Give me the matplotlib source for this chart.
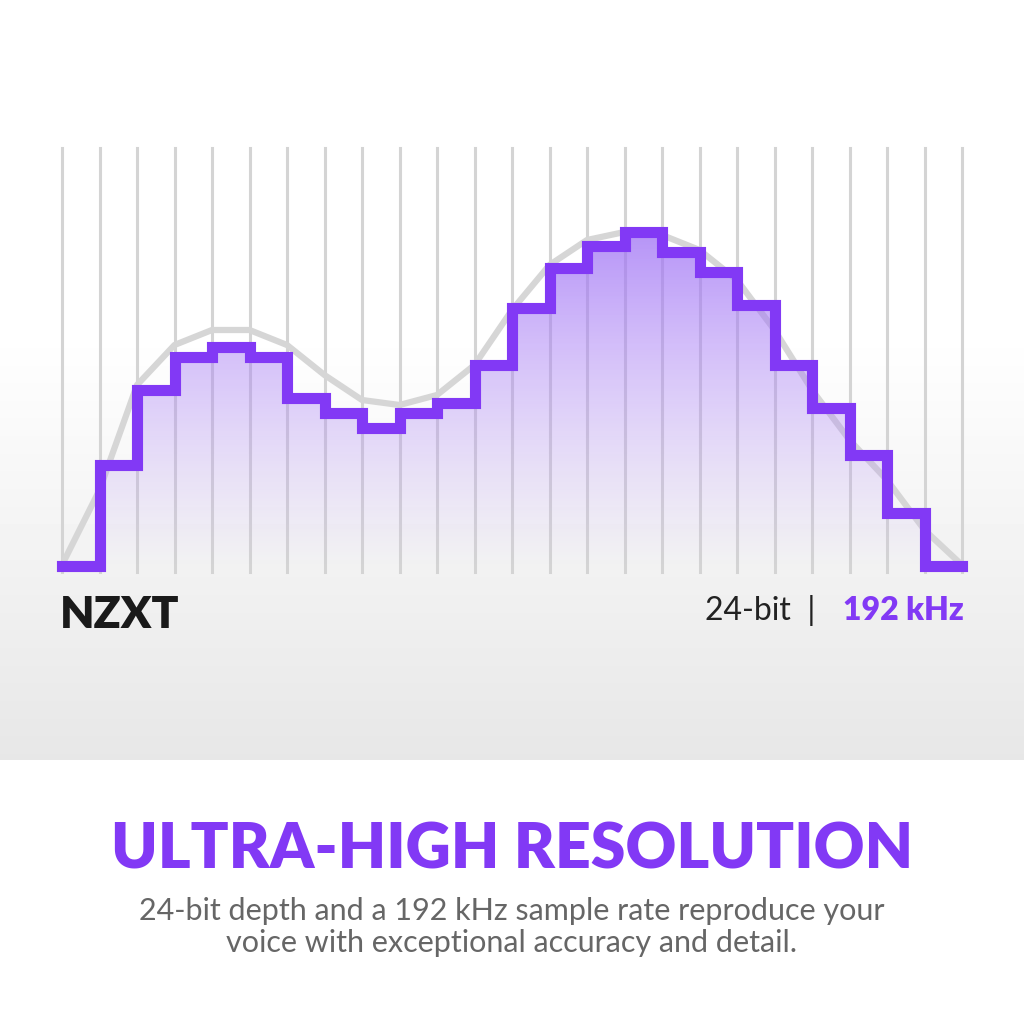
import numpy as np
import matplotlib.pyplot as plt
from matplotlib.colors import LinearSegmentedColormap

# sample index 0..24, amplitude in chart units
samples = np.arange(25)
step_levels = [6, 107, 182, 215, 225, 215, 174, 159, 144, 159, 169, 207,
               264, 304, 326, 340, 320, 300, 267, 207, 164, 117, 59, 6]
curve = [7, 82, 187, 227, 242, 242, 227, 197, 172, 167, 177, 207, 262,
         307, 332, 340, 337, 322, 292, 242, 182, 132, 92, 42, 7]

purple = '#8239f5'
W, H = 1024, 1023
fig = plt.figure(figsize=(W / 100, H / 100), dpi=100)

# background
bg = fig.add_axes([0, 0, 1, 1])
yy = np.linspace(0, 1, H)[:, None]
g = np.ones((H, 1))
top, bot = 330 / H, 760 / H
m = (yy >= top) & (yy <= bot)
g[m[:, 0], 0] = 1 - 0.095 * ((yy[m] - top) / (bot - top))
bg.imshow(np.repeat(g, 2, axis=1), cmap='gray', vmin=0, vmax=1, aspect='auto',
          extent=[0, W, H, 0])
bg.set_xlim(0, W)
bg.set_ylim(H, 0)
bg.axis('off')

ax = fig.add_axes([62 / W, (H - 572) / H, 900 / W, 424 / H])
ax.axis('off')
ax.patch.set_alpha(0)

for x in samples:
    ax.plot([x, x], [0, 424], color='#d4d4d4', lw=2.2, zorder=1, clip_on=False)

ax.plot(samples, curve, color='#d6d6d6', lw=4.5, zorder=2, solid_capstyle='round',
        solid_joinstyle='round')

sx = np.repeat(samples, 2)[1:-1]
sy = np.repeat(step_levels, 2)
poly = ax.fill_between(sx, sy, 6, color='none', zorder=3)
cmap = LinearSegmentedColormap.from_list('p', [(0.72, 0.58, 0.97, 0.0), (0.62, 0.44, 0.96, 0.75)])
grad = np.linspace(0, 1, 256)[:, None]
im = ax.imshow(grad, cmap=cmap, aspect='auto', extent=[0, 24, 6, 340],
               origin='lower', zorder=3)
im.set_clip_path(poly.get_paths()[0], transform=ax.transData)
ax.set_xlim(0, 24)
ax.set_ylim(0, 424)

ax.plot(sx, sy, color=purple, lw=8, zorder=4, solid_joinstyle='miter', clip_on=False)

fig.text(60 / W, 1 - 615 / H, 'NZXT', fontsize=32, fontweight='heavy',
         family='Lato', color='#1a1a1a', va='center')
fig.text(964 / W, 1 - 611 / H, '192 kHz', fontsize=23, fontweight='heavy',
         family='Lato', color=purple, ha='right', va='center')
fig.text(815 / W, 1 - 611 / H, '24-bit  |', fontsize=23, family='Lato',
         color='#222222', ha='right', va='center')

fig.text(0.5, 1 - 850 / H, 'ULTRA-HIGH RESOLUTION', fontsize=45, fontweight='heavy',
         family='Lato', color=purple, ha='center', va='center')
fig.text(0.5, 1 - 927 / H,
         '24-bit depth and a 192 kHz sample rate reproduce your\nvoice with exceptional accuracy and detail.',
         fontsize=22, family='Lato', color='#666666',
         ha='center', va='center', linespacing=1.15)

fig.savefig('out.png', dpi=100)
